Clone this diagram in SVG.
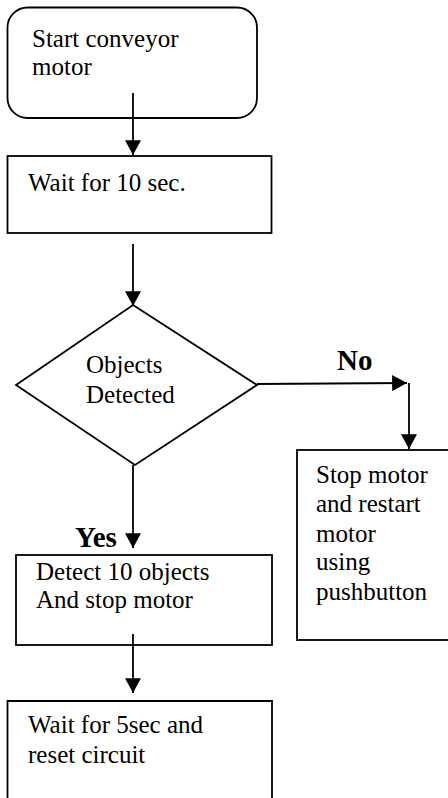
<svg xmlns="http://www.w3.org/2000/svg" width="448" height="798" viewBox="0 0 448 798">
<style>
.box{fill:#fff;stroke:#000;stroke-width:1.8}
.t{font-family:"Liberation Serif","Times New Roman",serif;font-size:25px;fill:#000}
.b{font-family:"Liberation Serif","Times New Roman",serif;font-size:29px;font-weight:bold;fill:#000}
.c{stroke:#000;stroke-width:1.8;fill:none;marker-end:url(#ah)}
</style>
<defs>
<marker id="ah" markerUnits="userSpaceOnUse" markerWidth="16" markerHeight="16" viewBox="0 0 14 14" refX="13" refY="7" orient="auto">
<path d="M0,0 L13,7 L0,14 Z" fill="#000"/>
</marker>
</defs>
<g id="start">
<rect class="box" x="7.5" y="7.5" width="249.5" height="110.5" rx="20" ry="20"/>
<text class="t" x="32" y="47">Start conveyor</text>
<text class="t" x="32" y="75">motor</text>
</g>
<g id="wait10">
<rect class="box" x="7.5" y="156" width="264" height="77"/>
<text class="t" x="28" y="191">Wait for 10 sec.</text>
</g>
<g id="decision">
<polygon class="box" points="133,305 257,385 135,465 16,385"/>
<text class="t" x="86" y="373">Objects</text>
<text class="t" x="86" y="403">Detected</text>
</g>
<g id="stop">
<rect class="box" x="297" y="450" width="160" height="190"/>
<text class="t" x="316" y="483">Stop motor</text>
<text class="t" x="316" y="512">and restart</text>
<text class="t" x="316" y="542">motor</text>
<text class="t" x="316" y="570">using</text>
<text class="t" x="316" y="600">pushbutton</text>
</g>
<g id="detect">
<rect class="box" x="16" y="555" width="256" height="90"/>
<text class="t" x="36" y="580">Detect 10 objects</text>
<text class="t" x="36" y="608">And stop motor</text>
</g>
<g id="wait5">
<path class="box" d="M7.5,805 V701 H272 V805"/>
<text class="t" x="28" y="733">Wait for 5sec and</text>
<text class="t" x="28" y="763">reset circuit</text>
</g>
<g id="connectors">
<line class="c" x1="133" y1="93" x2="133" y2="155"/>
<line class="c" x1="133" y1="244" x2="133" y2="306"/>
<line class="c" x1="257" y1="384" x2="407" y2="383"/>
<line class="c" x1="409" y1="383" x2="409" y2="449"/>
<line class="c" x1="133" y1="465" x2="133" y2="548"/>
<line class="c" x1="133" y1="634" x2="133" y2="693"/>
<text class="b" x="337" y="370">No</text>
<text class="b" x="75" y="547">Yes</text>
</g>
</svg>
